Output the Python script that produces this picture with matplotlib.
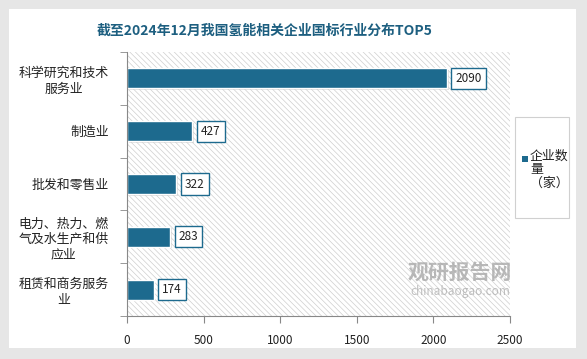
import matplotlib.pyplot as plt
from matplotlib.patches import Rectangle

plt.rcParams['font.family'] = ['Noto Sans CJK SC', 'DejaVu Sans']
plt.rcParams['hatch.linewidth'] = 0.5

# data (top to bottom)
categories = ['科学研究和技术\n服务业', '制造业', '批发和零售业',
              '电力、热力、燃\n气及水生产和供\n应业', '租赁和商务服务\n业']
values = [2090, 427, 322, 283, 174]
xticks = [0, 500, 1000, 1500, 2000, 2500]

bar_color = '#1d6a8e'
title_color = '#1d5f80'

W, H = 587, 359
fig = plt.figure(figsize=(W / 100, H / 100), dpi=100)
fig.patch.set_facecolor('#e6e6e6')
fig.patches.append(Rectangle((9 / W, 1 - 348 / H), 567 / W, 339 / H,
                             transform=fig.transFigure, facecolor='white',
                             edgecolor='none', zorder=-5))

ax = fig.add_axes([127 / W, 1 - 316 / H, 383 / W, 264 / H])
ax.set_facecolor('none')
ax.add_patch(Rectangle((0, 0), 1, 1, transform=ax.transAxes, facecolor='white',
                       edgecolor='#cfcfcf', linewidth=0, hatch='\\' * 6,
                       zorder=0))

y = list(range(len(values)))[::-1]
# soft shadow
ax.barh([v - 0.03 for v in y], values, height=0.38, left=12, color='#bdbdbd',
        alpha=0.45, zorder=1)
ax.barh(y, values, height=0.38, color=bar_color, edgecolor='white',
        linewidth=1, zorder=2)

for yi, v in zip(y, values):
    ax.annotate(str(v), (v, yi), xytext=(6, 0), textcoords='offset points',
                va='center', ha='left', fontsize=8.5, color='#222222',
                bbox=dict(boxstyle='square,pad=0.35', facecolor='white',
                          edgecolor=bar_color, linewidth=1.0), zorder=3)

ax.set_xlim(0, 2500)
ax.set_ylim(-0.5, 4.5)
ax.set_xticks(xticks)
ax.set_xticklabels([str(t) for t in xticks], fontsize=8.5, color='#222222')
ax.set_yticks(y)
ax.set_yticklabels(categories, fontsize=9.3, color='#222222',
                   multialignment='center', linespacing=1.25)
ax.set_yticks([i + 0.5 for i in range(-1, 5)], minor=True)
ax.tick_params(axis='y', which='major', length=0, pad=13)
ax.tick_params(axis='y', which='minor', length=5, color='#888888')
ax.tick_params(axis='x', length=5, color='#888888', pad=8)
for s in ['top', 'right']:
    ax.spines[s].set_visible(False)
for s in ['left', 'bottom']:
    ax.spines[s].set_color('#888888')

fig.text(265 / W, 1 - 31 / H, '截至2024年12月我国氢能相关企业国标行业分布TOP5',
         ha='center', va='center', fontsize=10, fontweight='bold',
         color=title_color)

# legend
fig.patches.append(Rectangle((515 / W, 1 - 218 / H), 54 / W, 101 / H,
                             transform=fig.transFigure, facecolor='white',
                             edgecolor='#d0d0d0', linewidth=0.8, zorder=5))
fig.patches.append(Rectangle((522 / W, 1 - 162 / H), 6 / W, 6 / H,
                             transform=fig.transFigure, facecolor=bar_color,
                             edgecolor='none', zorder=6))
fig.text(530 / W, 1 - 150 / H, '企业数\n量\n（家）', ha='left', va='top',
         fontsize=9.3, color='#222222', linespacing=1.05, zorder=6)

# watermark
fig.text(460 / W, 1 - 272 / H, '观研报告网', ha='center', va='center',
         fontsize=15, fontweight='bold', color='#a8a8a8', alpha=0.8, zorder=6)
fig.text(460 / W, 1 - 292 / H, 'chinabaogao.com', ha='center', va='center',
         fontsize=8.5, color='#b0b0b0', alpha=0.8, zorder=6)

fig.savefig('out.png', dpi=100, facecolor=fig.get_facecolor())
